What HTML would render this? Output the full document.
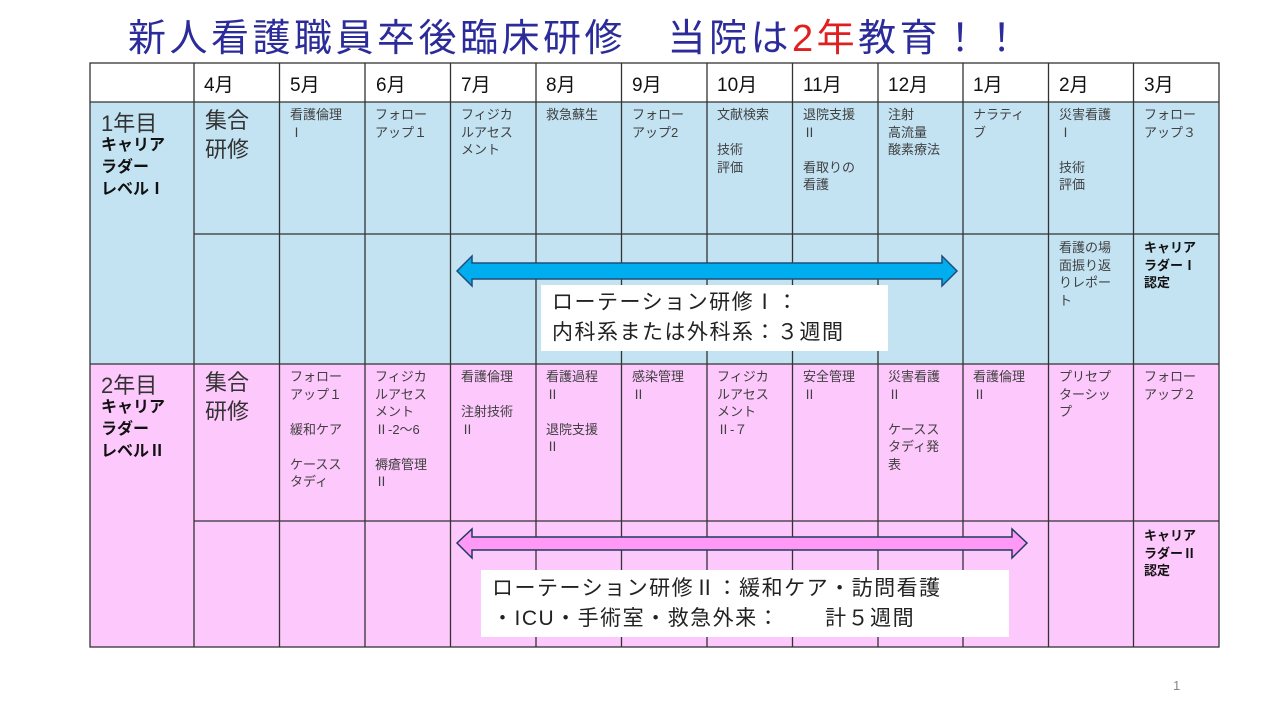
<!DOCTYPE html>
<html><head><meta charset="utf-8"><style>
body{margin:0;width:1280px;height:720px;background:#fff;position:relative;overflow:hidden;font-family:"Liberation Sans","Noto Sans CJK JP",sans-serif;color:#333}
.a{position:absolute}
.c{position:absolute;font-size:13px;line-height:17.5px;white-space:nowrap;color:#404040}
.h{position:absolute;font-size:19px;top:70px;color:#111}
.b{font-weight:bold;color:#111}
</style></head><body>
<div class="a" style="left:128px;top:7px;font-size:38px;color:#2b2b9a;letter-spacing:3.5px;white-space:nowrap">新人看護職員卒後臨床研修　当院は<span style="color:#e02020">2年</span>教育！！</div>
<svg class="a" style="left:0;top:0" width="1280" height="720">
<rect x="90" y="63" width="1129" height="39" fill="#fff"/>
<rect x="90" y="102" width="1129" height="262" fill="#c3e3f3"/>
<rect x="90" y="364" width="1129" height="283" fill="#fdc8fb"/>
<g stroke="#333" stroke-width="1.3" fill="none">
<rect x="90" y="63" width="1129" height="584"/>
<line x1="90" y1="102" x2="1219" y2="102"/>
<line x1="90" y1="364" x2="1219" y2="364"/>
<line x1="194" y1="234" x2="1219" y2="234"/>
<line x1="194" y1="521" x2="1219" y2="521"/>
<line x1="194" y1="63" x2="194" y2="647"/><line x1="279.5" y1="63" x2="279.5" y2="647"/><line x1="365" y1="63" x2="365" y2="647"/><line x1="450.5" y1="63" x2="450.5" y2="647"/><line x1="536" y1="63" x2="536" y2="647"/><line x1="621.5" y1="63" x2="621.5" y2="647"/><line x1="707" y1="63" x2="707" y2="647"/><line x1="792.5" y1="63" x2="792.5" y2="647"/><line x1="878" y1="63" x2="878" y2="647"/><line x1="963" y1="63" x2="963" y2="647"/><line x1="1048.5" y1="63" x2="1048.5" y2="647"/><line x1="1133.5" y1="63" x2="1133.5" y2="647"/>
</g>
<polygon points="457,271 472,256 472,263 942,263 942,256 957,271 942,286 942,279 472,279 472,286" fill="#00aeef" stroke="#1f4e79" stroke-width="1.5"/>
<polygon points="457,543 472,529 472,537 1012,537 1012,529 1027,543 1012,558 1012,550 472,550 472,558" fill="#ff99f5" stroke="#1f3a60" stroke-width="1.5"/>
<rect x="541" y="285" width="347" height="66" fill="#fff"/>
<rect x="481" y="570" width="528" height="67" fill="#fff"/>
</svg>
<div class="h" style="left:204px">4月</div><div class="h" style="left:290px">5月</div><div class="h" style="left:376px">6月</div><div class="h" style="left:461px">7月</div><div class="h" style="left:546px">8月</div><div class="h" style="left:632px">9月</div><div class="h" style="left:717px">10月</div><div class="h" style="left:803px">11月</div><div class="h" style="left:888px">12月</div><div class="h" style="left:973px">1月</div><div class="h" style="left:1059px">2月</div><div class="h" style="left:1144px">3月</div>

<div class="a" style="left:101px;top:106px;font-size:22px;color:#333">1年目</div>
<div class="a b" style="left:101px;top:135px;font-size:16px;line-height:22px">キャリア<br>ラダー<br>レベルⅠ</div>
<div class="a" style="left:205px;top:106px;font-size:22px;line-height:29px;color:#333">集合<br>研修</div>
<div class="c" style="left:290px;top:106px">看護倫理<br>Ⅰ</div>
<div class="c" style="left:375px;top:106px">フォロー<br>アップ１</div>
<div class="c" style="left:461px;top:106px">フィジカ<br>ルアセス<br>メント</div>
<div class="c" style="left:546px;top:106px">救急蘇生</div>
<div class="c" style="left:632px;top:106px">フォロー<br>アップ2</div>
<div class="c" style="left:717px;top:106px">文献検索<br><br>技術<br>評価</div>
<div class="c" style="left:803px;top:106px">退院支援<br>Ⅱ<br><br>看取りの<br>看護</div>
<div class="c" style="left:888px;top:106px">注射<br>高流量<br>酸素療法</div>
<div class="c" style="left:973px;top:106px">ナラティ<br>ブ</div>
<div class="c" style="left:1059px;top:106px">災害看護<br>Ⅰ<br><br>技術<br>評価</div>
<div class="c" style="left:1144px;top:106px">フォロー<br>アップ３</div>
<div class="c" style="left:1059px;top:239px">看護の場<br>面振り返<br>りレポー<br>ト</div>
<div class="c b" style="left:1144px;top:239px">キャリア<br>ラダーⅠ<br>認定</div>
<div class="a" style="left:552px;top:288px;font-size:21px;line-height:30px;letter-spacing:1.5px;color:#222;white-space:nowrap">ローテーション研修Ⅰ：<br>内科系または外科系：３週間</div>

<div class="a" style="left:101px;top:368px;font-size:22px;color:#333">2年目</div>
<div class="a b" style="left:101px;top:397px;font-size:16px;line-height:22px">キャリア<br>ラダー<br>レベルⅡ</div>
<div class="a" style="left:205px;top:368px;font-size:22px;line-height:29px;color:#333">集合<br>研修</div>
<div class="c" style="left:290px;top:368px">フォロー<br>アップ１<br><br>緩和ケア<br><br>ケースス<br>タディ</div>
<div class="c" style="left:375px;top:368px">フィジカ<br>ルアセス<br>メント<br>Ⅱ‐2～6<br><br>褥瘡管理<br>Ⅱ</div>
<div class="c" style="left:461px;top:368px">看護倫理<br><br>注射技術<br>Ⅱ</div>
<div class="c" style="left:546px;top:368px">看護過程<br>Ⅱ<br><br>退院支援<br>Ⅱ</div>
<div class="c" style="left:632px;top:368px">感染管理<br>Ⅱ</div>
<div class="c" style="left:717px;top:368px">フィジカ<br>ルアセス<br>メント<br>Ⅱ‐７</div>
<div class="c" style="left:803px;top:368px">安全管理<br>Ⅱ</div>
<div class="c" style="left:888px;top:368px">災害看護<br>Ⅱ<br><br>ケースス<br>タディ発<br>表</div>
<div class="c" style="left:973px;top:368px">看護倫理<br>Ⅱ</div>
<div class="c" style="left:1059px;top:368px">プリセプ<br>ターシッ<br>プ</div>
<div class="c" style="left:1144px;top:368px">フォロー<br>アップ２</div>
<div class="c b" style="left:1144px;top:527px">キャリア<br>ラダーⅡ<br>認定</div>
<div class="a" style="left:492px;top:574px;font-size:21px;line-height:30px;letter-spacing:1.5px;color:#222;white-space:nowrap">ローテーション研修Ⅱ：緩和ケア・訪問看護<br>・ICU・手術室・救急外来：　　計５週間</div>
<div class="a" style="left:1173px;top:678px;font-size:13px;color:#888">1</div>
</body></html>
